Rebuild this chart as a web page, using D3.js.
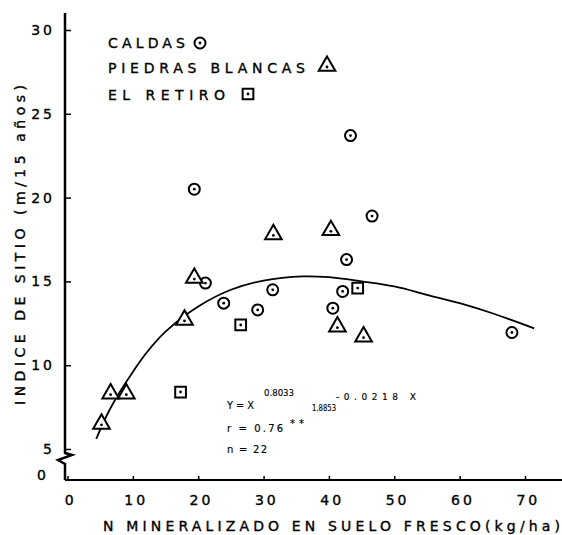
<!DOCTYPE html>
<html>
<head>
<meta charset="utf-8">
<script src="https://cdn.jsdelivr.net/npm/d3@7"></script>
<style>
  body { margin: 0; background: #fff; }
  svg { display: block; font-family: "DejaVu Sans", sans-serif; }
  text { stroke: #000; stroke-width: 0.35px; }
  .eq text { stroke-width: 0.15px; }
</style>
</head>
<body>
<div id="chart"></div>
<script>
const WIDTH = 562, HEIGHT = 535;

// data: N (kg/ha) vs site index (m / 15 años)
const caldasN      = [19.4, 21.1, 31.4, 23.9, 29.1, 43.3, 46.6, 42.7, 42.1, 40.6, 68.0];
const caldasIS     = [20.5, 14.9, 14.5, 13.7, 13.3, 23.7, 18.9, 16.3, 14.4, 13.4, 11.95];
const piedrasN     = [31.5, 19.4, 17.9, 40.3, 41.3, 45.3, 6.6, 9.0, 5.2];
const piedrasIS    = [17.8, 15.2, 12.7, 18.05, 12.3, 11.7, 8.3, 8.3, 6.5];
const retiroN      = [26.5, 44.4, 17.3];
const retiroIS     = [12.4, 14.6, 8.4];

// fitted curve, points
const curveN  = [4.4, 6, 8, 10, 12, 15, 20, 25, 30, 36, 40, 45, 50, 55, 60, 65, 71.4];
const curveIS = [5.6, 7.0, 8.4, 9.6, 10.7, 12.0, 13.5, 14.5, 15.05, 15.3, 15.25, 15.0, 14.7, 14.2, 13.7, 13.1, 12.2];

const xTicks = [0, 10, 20, 30, 40, 50, 60, 70];
const yTicks = [5, 10, 15, 20, 25, 30];

const groups = [
  { name: "CALDAS", shape: d3.symbolCircle, size: 95, xs: caldasN, ys: caldasIS },
  { name: "PIEDRAS BLANCAS", shape: d3.symbolTriangle, size: 120, xs: piedrasN, ys: piedrasIS },
  { name: "EL RETIRO", shape: d3.symbolSquare, size: 115, xs: retiroN, ys: retiroIS }
];

const svg = d3.select("#chart").append("svg")
  .attr("width", WIDTH)
  .attr("height", HEIGHT);

const x = d3.scaleLinear().domain([0, 70]).range([67.5, 525]);
const y = d3.scaleLinear().domain([5, 30]).range([449, 30]);

const axisX = 65, baseY = 480;

// x axis
const gx = svg.append("g").attr("transform", `translate(0,${baseY})`)
  .call(d3.axisBottom(x).tickValues(xTicks).tickSize(-4).tickPadding(8).tickFormat(d3.format("d")));
gx.select(".domain").remove();
gx.append("line").attr("x1", axisX).attr("x2", WIDTH).attr("stroke", "#000").attr("stroke-width", 2);
gx.selectAll(".tick line").attr("stroke-width", 1.5);
gx.selectAll(".tick text")
  .attr("y", 15)
  .attr("dx", "0.2em")
  .style("font-size", "14px")
  .style("letter-spacing", "3px")
  .style("font-family", "DejaVu Sans, sans-serif");

// y axis (broken between 0 and 5)
const gy = svg.append("g").attr("transform", `translate(${axisX},0)`)
  .call(d3.axisLeft(y).tickValues(yTicks).tickSize(-6).tickPadding(10).tickFormat(d3.format("d")));
gy.select(".domain").remove();
gy.selectAll(".tick line").attr("stroke-width", 1.5);
gy.selectAll(".tick text")
  .style("font-size", "14px")
  .style("letter-spacing", "3px")
  .style("font-family", "DejaVu Sans, sans-serif");

svg.append("path")
  .attr("d", `M${axisX},13 L${axisX},453 L${axisX + 7},455 L${axisX - 7},460 L${axisX},464 L${axisX},${baseY}`)
  .attr("fill", "none").attr("stroke", "#000").attr("stroke-width", 2.5);

svg.append("text").attr("x", 49).attr("y", 480)
  .attr("text-anchor", "end").style("font-size", "14px").style("letter-spacing", "3px").text("0");

// axis titles
svg.append("text")
  .attr("x", 103).attr("y", 531)
  .attr("textLength", 457).attr("lengthAdjust", "spacing")
  .style("font-size", "14px")
  .text("N MINERALIZADO EN SUELO FRESCO(kg/ha)");

svg.append("text")
  .attr("transform", "translate(25,405) rotate(-90)")
  .attr("textLength", 320).attr("lengthAdjust", "spacing")
  .style("font-size", "14px")
  .text("INDICE DE SITIO (m/15 años)");

// fitted curve
const line = d3.line().x(d => x(d[0])).y(d => y(d[1])).curve(d3.curveCatmullRom);
svg.append("path")
  .datum(d3.zip(curveN, curveIS))
  .attr("d", line)
  .attr("fill", "none").attr("stroke", "#000").attr("stroke-width", 1.8);

// markers
function drawMarker(g, shape, size, px, py) {
  g.append("path")
    .attr("transform", `translate(${px},${py})`)
    .attr("d", d3.symbol().type(shape).size(size)())
    .attr("fill", "#fff").attr("stroke", "#000").attr("stroke-width", 2);
  g.append("circle").attr("cx", px).attr("cy", py + (shape === d3.symbolTriangle ? 1 : 0))
    .attr("r", 1.4).attr("fill", "#000");
}

const marks = svg.append("g");
groups.forEach(gr => {
  gr.xs.forEach((v, i) => drawMarker(marks, gr.shape, gr.size, x(v), y(gr.ys[i])));
});

// legend
const legend = [
  { tx: 108, ty: 48, len: 77, sx: 200, sy: 43 },
  { tx: 108, ty: 73, len: 197, sx: 327, sy: 66 },
  { tx: 108, ty: 100, len: 117, sx: 248, sy: 94 }
];
groups.forEach((gr, i) => {
  const L = legend[i];
  svg.append("text").attr("x", L.tx).attr("y", L.ty)
    .attr("textLength", L.len).attr("lengthAdjust", "spacing")
    .style("font-size", "14px").text(gr.name);
  drawMarker(svg, gr.shape, gr.size, L.sx, L.sy);
});

// regression annotation
const eqLines = [
  { t: "Y = X",     x: 227, y: 409, len: 27, fs: 10,  adj: "spacingAndGlyphs" },
  { t: "0.8033",    x: 264, y: 396, len: 30, fs: 9.5, adj: "spacingAndGlyphs" },
  { t: "1.8853",    x: 312, y: 411, len: 24, fs: 9,   adj: "spacingAndGlyphs" },
  { t: "-0.0218 X", x: 336, y: 400, len: 80, fs: 9,   adj: "spacing" },
  { t: "r = 0.76",  x: 227, y: 432, len: 56, fs: 10,  adj: "spacing" },
  { t: "**",        x: 290, y: 427, len: 14, fs: 10,  adj: "spacing" },
  { t: "n = 22",    x: 227, y: 453, len: 40, fs: 10,  adj: "spacing" }
];
svg.append("g").attr("class", "eq")
  .selectAll("text").data(eqLines).join("text")
  .attr("x", d => d.x).attr("y", d => d.y)
  .attr("textLength", d => d.len).attr("lengthAdjust", d => d.adj)
  .style("font-size", d => d.fs + "px")
  .text(d => d.t);
</script>
</body>
</html>
